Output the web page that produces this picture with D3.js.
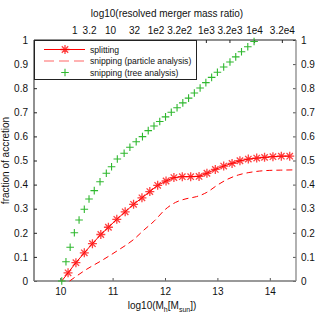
<!DOCTYPE html>
<html>
<head>
<meta charset="utf-8">
<script src="https://cdn.jsdelivr.net/npm/d3@7"></script>
<style>
  body { margin: 0; background: #fff; }
  text { font-family: "Liberation Sans", Arial, sans-serif; fill: #111; }
</style>
</head>
<body>
<div id="chart"></div>
<script>
// log10(M_h) values and fractions
const splitX = [10.03, 10.15, 10.30, 10.46, 10.615, 10.775, 10.92, 11.08, 11.24, 11.40, 11.56, 11.71, 11.86, 12.02,
    12.17, 12.33, 12.49, 12.65, 12.80, 12.96, 13.12, 13.28, 13.43, 13.59, 13.75, 13.90, 14.06, 14.22, 14.38];
const splitY = [0, 0.034, 0.076, 0.117, 0.155, 0.193, 0.223, 0.256, 0.287, 0.318, 0.345, 0.371, 0.397, 0.415,
    0.429, 0.433, 0.433, 0.434, 0.447, 0.463, 0.477, 0.488, 0.499, 0.506, 0.510, 0.513, 0.516, 0.518, 0.518];

const particleX = [10.18, 10.5, 10.8, 11.1, 11.4, 11.6, 11.8, 12.0, 12.2, 12.4, 12.6, 12.8, 13.0, 13.2, 13.4, 13.6, 13.8, 14.0, 14.2, 14.45];
const particleY = [0, 0.048, 0.086, 0.127, 0.172, 0.212, 0.25, 0.296, 0.326, 0.341, 0.350, 0.368, 0.398, 0.423, 0.440, 0.450, 0.456, 0.459, 0.460, 0.461];

const treeX = [10.03, 10.11, 10.19, 10.27, 10.36, 10.46, 10.55, 10.65, 10.76, 10.88, 10.98, 11.09, 11.22, 11.33, 11.45,
    11.57, 11.68, 11.79, 11.90, 12.01, 12.12, 12.23, 12.34, 12.45, 12.56, 12.67, 12.78, 12.89, 13.00, 13.12, 13.24,
    13.35, 13.46, 13.58, 13.70];
const treeY = [0, 0.080, 0.140, 0.200, 0.253, 0.298, 0.340, 0.375, 0.412, 0.447, 0.474, 0.506, 0.530, 0.555, 0.578,
    0.599, 0.624, 0.643, 0.662, 0.681, 0.700, 0.719, 0.739, 0.759, 0.780, 0.801, 0.823, 0.845, 0.866, 0.888, 0.909,
    0.930, 0.951, 0.972, 0.994];

// top axis: merger mass ratio ticks placed on the log10(M_h) scale
const topTickPos = [10.27, 10.55, 10.95, 11.41, 11.82, 12.27, 12.78, 13.23, 13.70, 14.23];
const topTickLabels = ["1", "3.2", "10", "32", "1e2", "3.2e2", "1e3", "3.2e3", "1e4", "3.2e4"];

const xTicks = [10, 11, 12, 13, 14];
const yTicks = [0, 0.1, 0.2, 0.3, 0.4, 0.5, 0.6, 0.7, 0.8, 0.9, 1];

const legendLabels = ["splitting", "snipping (particle analysis)", "snipping (tree analysis)"];

function draw() {
    const margin = { top: 40, right: 20, bottom: 36, left: 34 };
    const W = 316, H = 317;
    const width = W - margin.left - margin.right;
    const height = H - margin.top - margin.bottom;

    const root = d3.select("#chart").append("svg")
        .attr("width", W).attr("height", H);
    const svg = root.append("g")
        .attr("transform", `translate(${margin.left},${margin.top})`);

    const x = d3.scaleLinear().domain([9.5, 14.5]).range([0, width]);
    const y = d3.scaleLinear().domain([0, 1]).range([height, 0]);

    const fmt = d => d === 0 || d === 1 ? d3.format("d")(d) : d3.format(".1f")(d);

    // axes with inward ticks
    const styleAxis = (g, col) => {
        g.select(".domain").remove();
        g.selectAll("line").attr("stroke", col);
        g.selectAll("text").style("font-size", "10px").attr("fill", "#111");
    };

    svg.append("g")
        .attr("transform", `translate(0,${height})`)
        .call(d3.axisBottom(x).tickValues(xTicks).tickSize(-3).tickPadding(7).tickFormat(d3.format("d")))
        .call(g => styleAxis(g, "#555"));

    svg.append("g")
        .call(d3.axisLeft(y).tickValues(yTicks).tickSize(-3).tickPadding(6).tickFormat(fmt))
        .call(g => styleAxis(g, "#222"));

    svg.append("g")
        .attr("transform", `translate(${width},0)`)
        .call(d3.axisRight(y).tickValues(yTicks).tickSize(-3).tickPadding(5).tickFormat(fmt))
        .call(g => styleAxis(g, "#555"));

    svg.append("g")
        .call(d3.axisTop(x).tickValues(topTickPos).tickSize(-3).tickPadding(6)
            .tickFormat((d, i) => topTickLabels[i]))
        .call(g => styleAxis(g, "#222"));

    // frame: left/top dark, bottom/right grey
    svg.append("line").attr("x1", 0).attr("x2", width).attr("y1", 0).attr("y2", 0)
        .attr("stroke", "#222").attr("stroke-width", 1);
    svg.append("line").attr("x1", 0).attr("x2", 0).attr("y1", 0).attr("y2", height)
        .attr("stroke", "#222").attr("stroke-width", 1);
    svg.append("line").attr("x1", 0).attr("x2", width).attr("y1", height).attr("y2", height)
        .attr("stroke", "#777").attr("stroke-width", 1.3);
    svg.append("line").attr("x1", width).attr("x2", width).attr("y1", 0).attr("y2", height)
        .attr("stroke", "#888").attr("stroke-width", 1.3);

    // axis titles
    svg.append("text")
        .attr("x", width / 2 + 2).attr("y", -23)
        .attr("text-anchor", "middle")
        .style("font-size", "10px")
        .text("log10(resolved merger mass ratio)");

    const xl = svg.append("text")
        .attr("x", width / 2 - 3).attr("y", height + 28)
        .attr("text-anchor", "middle")
        .style("font-size", "10px");
    xl.append("tspan").text("log10(M");
    xl.append("tspan").attr("dy", 3).style("font-size", "7px").text("h");
    xl.append("tspan").attr("dy", -3).text("[M");
    xl.append("tspan").attr("dy", 3).style("font-size", "7px").text("sun");
    xl.append("tspan").attr("dy", -3).text("])");

    svg.append("text")
        .attr("transform", "rotate(-90)")
        .attr("x", -height / 2).attr("y", -25)
        .attr("text-anchor", "middle")
        .style("font-size", "10px")
        .text("fraction of accretion");

    const split = splitX.map((v, i) => ({ x: v, y: splitY[i] }));
    const particle = particleX.map((v, i) => ({ x: v, y: particleY[i] }));
    const tree = treeX.map((v, i) => ({ x: v, y: treeY[i] }));

    const star = "M-4.5,0H4.5M0,-4.5V4.5M-3.2,-3.2L3.2,3.2M-3.2,3.2L3.2,-3.2";
    const plus = "M-3.8,0H3.8M0,-3.8V3.8";
    const red = "#ff0000", green = "#2fb82f";

    // particle analysis (dashed)
    svg.append("path").datum(particle)
        .attr("fill", "none").attr("stroke", red).attr("stroke-width", 1)
        .attr("stroke-dasharray", "6,4")
        .attr("d", d3.line().x(d => x(d.x)).y(d => y(d.y)).curve(d3.curveMonotoneX));

    // splitting line + stars
    svg.append("path").datum(split)
        .attr("fill", "none").attr("stroke", red).attr("stroke-width", 1)
        .attr("d", d3.line().x(d => x(d.x)).y(d => y(d.y)));

    svg.selectAll(".star").data(split.filter(d => d.y > 0)).join("path")
        .attr("class", "star")
        .attr("transform", d => `translate(${x(d.x)},${y(d.y)})`)
        .attr("d", star)
        .attr("stroke", red).attr("stroke-width", 1.3).attr("stroke-opacity", 0.75)
        .attr("fill", "none");

    // tree analysis pluses
    svg.selectAll(".plus").data(tree).join("path")
        .attr("class", "plus")
        .attr("transform", d => `translate(${x(d.x)},${y(d.y)})`)
        .attr("d", plus)
        .attr("stroke", green).attr("stroke-width", 1.1)
        .attr("fill", "none");

    // legend
    const legend = svg.append("g");
    legend.append("rect")
        .attr("x", 0.5).attr("y", 0.5).attr("width", 162).attr("height", 39)
        .attr("fill", "#fff").attr("stroke", "#222").attr("stroke-width", 1);

    legendLabels.forEach((label, i) => {
        const g = legend.append("g").attr("transform", `translate(0,${9.5 + i * 11.5})`);
        if (i === 0) {
            g.append("line").attr("x1", 10).attr("x2", 51).attr("y1", 0).attr("y2", 0)
                .attr("stroke", red).attr("stroke-width", 1);
            g.append("path").attr("transform", "translate(31,0)").attr("d", star)
                .attr("stroke", red).attr("stroke-width", 1.3).attr("stroke-opacity", 0.75).attr("fill", "none");
        } else if (i === 1) {
            g.append("line").attr("x1", 10).attr("x2", 51).attr("y1", 0).attr("y2", 0)
                .attr("stroke", red).attr("stroke-width", 1.2).attr("stroke-opacity", 0.6)
                .attr("stroke-dasharray", "10,5");
        } else {
            g.append("path").attr("transform", "translate(31,0)").attr("d", plus)
                .attr("stroke", green).attr("stroke-width", 1.1).attr("fill", "none");
        }
        g.append("text")
            .attr("x", 56).attr("y", 3)
            .style("font-size", "8.6px")
            .text(label);
    });
}

draw();
</script>
</body>
</html>
